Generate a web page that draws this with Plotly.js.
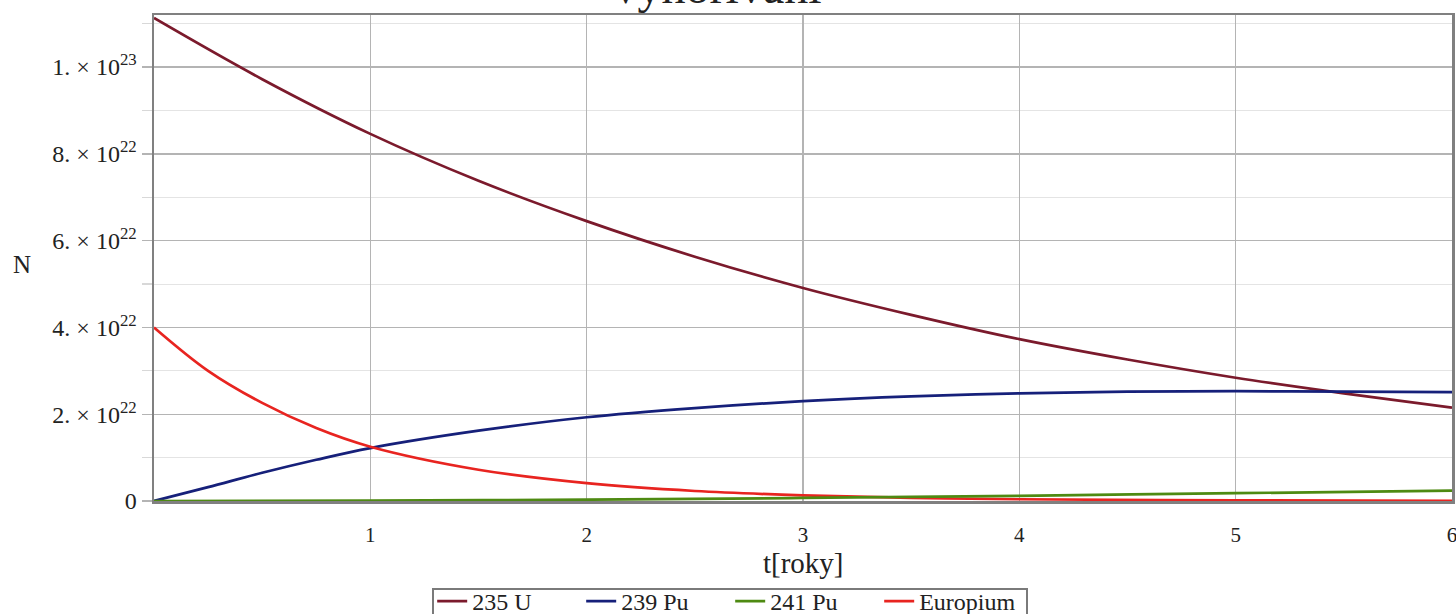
<!DOCTYPE html>
<html>
<head>
<meta charset="utf-8">
<script src="https://cdn.plot.ly/plotly-3.0.1.min.js"></script>
<style>html,body{margin:0;padding:0;background:#fff;}#chart{width:1456px;height:614px;}</style>
</head>
<body>
<div id="chart"></div>
<script>
// time [years]
const tU = [0,0.5,1,1.5,2,2.5,3,3.5,4,4.5,5,5.5,6];
const u235 = [11.13,9.72,8.46,7.38,6.45,5.63,4.91,4.29,3.73,3.26,2.84,2.48,2.15]; // x1e22
const tPu239 = [0,0.25,0.5,0.75,1,1.5,2,2.5,3,3.5,4,4.5,5,5.5,6];
const pu239 = [0,0.32,0.65,0.95,1.22,1.62,1.93,2.14,2.30,2.41,2.48,2.52,2.53,2.52,2.51];
const tPu241 = [0,1,2,3,4,5,6];
const pu241 = [0,0.01,0.03,0.07,0.12,0.18,0.24];
const tEu = [0,0.25,0.5,0.75,1,1.5,2,2.5,3,3.5,4,5,6];
const europium = [4.0,3.0,2.26,1.68,1.25,0.72,0.41,0.23,0.13,0.07,0.04,0.015,0.005];
const scale = 1e22;

const yTickVals = [0,2e22,4e22,6e22,8e22,1e23];
const yTickText = ['0','2. × 10<sup>22</sup>','4. × 10<sup>22</sup>','6. × 10<sup>22</sup>','8. × 10<sup>22</sup>','1. × 10<sup>23</sup>'];
const xTickVals = [1,2,3,4,5,6];
const xTickText = ['1','2','3','4','5','6'];

const names = ['235 U','239 Pu','241 Pu','Europium'];
const colors = ['#7b1a2c','#16207a','#4e8a12','#e82420'];

const sc = a => a.map(v => v*scale);
const mk = (x,y,i,rank) => ({x:x, y:sc(y), type:'scatter', mode:'lines', name:names[i], legendrank:rank,
  line:{color:colors[i], width:2.7, shape:'spline', smoothing:1}});

const data = [
  mk(tU,u235,0,1),
  mk(tPu239,pu239,1,2),
  mk(tEu,europium,3,4),
  mk(tPu241,pu241,2,3)
];

// plot area in pixels: x 154..1452, y 15..501
const px = v => (v-154)/1298;
const py = v => (501-v)/486;

const serif = 'Liberation Serif, Times New Roman, serif';
const layout = {
  width:1456, height:614,
  margin:{l:154, r:4, t:15, b:113},
  paper_bgcolor:'#fff', plot_bgcolor:'#fff',
  font:{family:serif, color:'#222', size:22},
  showlegend:true,
  title:{text:'Vyhořívání', font:{family:serif, size:48, color:'#222'},
         xref:'container', x:0.491, xanchor:'center', yref:'container', y:0.995, yanchor:'bottom'},
  xaxis:{range:[0,6], tickvals:xTickVals, ticktext:xTickText, showgrid:true, gridcolor:'#b4b4b4', gridwidth:1.3,
         zeroline:false, showline:true, mirror:true, linecolor:'#808080', linewidth:2.5,
         ticks:'', ticklabelstandoff:13, ticklabeloverflow:'allow',
         tickfont:{family:serif, size:21, color:'#222'}},
  yaxis:{range:[0,1.12e23], tickvals:yTickVals, ticktext:yTickText, showgrid:true, gridcolor:'#b4b4b4', gridwidth:1.3,
         zeroline:false, showline:true, mirror:true, linecolor:'#808080', linewidth:2.5,
         ticks:'outside', ticklen:10, tickcolor:'#b4b4b4', tickwidth:1.3,
         tickfont:{family:serif, size:24, color:'#222'},
         minor:{dtick:1e22, tick0:0, showgrid:true, gridcolor:'#e4e4e4', gridwidth:1, ticks:'outside', ticklen:10, tickcolor:'#d8d8d8'}},
  legend:{orientation:'h', xref:'container', x:0.5015, xanchor:'center', yref:'container', y:0.0570, yanchor:'top',
          borderwidth:0, bgcolor:'rgba(0,0,0,0)', font:{family:serif, size:24, color:'#222'},
          traceorder:'normal', entrywidth:104, entrywidthmode:'pixels', tracegroupgap:0},
  shapes:[
    {type:'rect', xref:'paper', yref:'paper', x0:px(433), x1:px(1027), y0:py(589), y1:py(630),
     line:{color:'#7a7a7a', width:2}, fillcolor:'rgba(0,0,0,0)', layer:'above'}
  ],
  annotations:[
    {text:'t[roky]', xref:'paper', yref:'paper', x:0.5, y:-0.128, xanchor:'center', yanchor:'middle', showarrow:false,
     font:{family:serif, size:29, color:'#222'}},
    {text:'N', xref:'paper', yref:'paper', x:-0.1017, y:0.4856, xanchor:'center', yanchor:'middle', showarrow:false,
     font:{family:serif, size:25, color:'#222'}}
  ]
};
Plotly.newPlot('chart', data, layout, {displayModeBar:false, staticPlot:true});
</script>
</body>
</html>
